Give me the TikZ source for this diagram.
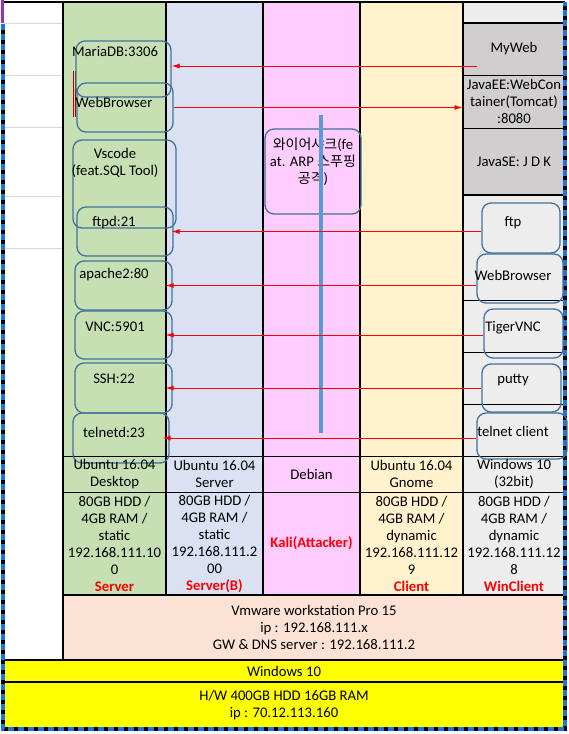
\documentclass[tikz,border=0pt]{standalone}
\usepackage{fontspec}
\setmainfont{Carlito}
\newfontfamily\krfont{Noto Sans CJK KR}
\usetikzlibrary{arrows.meta}
\definecolor{srvgreen}{HTML}{C6E0B4}
\definecolor{srvblue}{HTML}{D9E1F2}
\definecolor{kalipink}{HTML}{FFCCFF}
\definecolor{clientyellow}{HTML}{FFF2CC}
\definecolor{wingray}{HTML}{EDEDED}
\definecolor{webgray}{HTML}{D0CECE}
\definecolor{vmpeach}{HTML}{FBE2D5}
\definecolor{hostyellow}{HTML}{FFFF00}
\definecolor{boxline}{HTML}{41719C}
\definecolor{wireblue}{HTML}{5B9BD5}
\definecolor{selblue}{HTML}{1F73E0}
\definecolor{selpurple}{HTML}{9933B3}
\definecolor{gridgray}{HTML}{D9D9D9}
\newcommand{\kr}[1]{{\krfont\fontsize{14}{17}\selectfont #1}}
\begin{document}
\begin{tikzpicture}[x=1pt,y=-1pt,
    every node/.style={font=\fontsize{14.7}{17}\selectfont,inner sep=0pt,align=center},
    svc/.style={draw=boxline,line width=1.3,rounded corners=9},
    cell/.style={draw=black,line width=1,fill=webgray,minimum width=102},
    layer/.style={draw=black,line width=1.5,minimum width=#1},
    tag/.style={text=red,font=\fontsize{14.7}{17}\selectfont\bfseries},
    arr/.style={red,line width=0.9,-{Latex[length=8pt,width=5pt]}},
    arrin/.style={arr,shorten >=-7pt}]
    \useasboundingbox (0,0) rectangle (569,734);
    \fill[srvgreen] (63,2) rectangle (166,595);
    \fill[srvblue] (166,2) rectangle (263,595);
    \fill[kalipink] (263,2) rectangle (360,595);
    \fill[clientyellow] (360,2) rectangle (463,595);
    \fill[wingray] (463,2) rectangle (565,595);
    \foreach \y in {23,75,127,196,248} \draw[gridgray] (3,\y) -- (63,\y);
    \node[cell,minimum height=52] (myweb) at (514,49) {MyWeb};
    \node[cell,minimum height=53] (javaee) at (514,101.5) {JavaEE:WebCon\\tainer(Tomcat)\\:8080};
    \node[cell,minimum height=67] (javase) at (514,161.5) {JavaSE: J D K};
    \foreach \y in {300,352,404} \draw[line width=1] (463,\y) -- (565,\y);
    \draw[line width=2] (463,23) -- (565,23) (463,195) -- (565,195);
    \draw[line width=1] (63,456) -- (565,456) (63,492) -- (565,492);
    \draw[line width=1.5] (3,2) -- (565,2);
    \foreach \x in {63,166,263,360,463} \draw[line width=2.5] (\x,2) -- (\x,595);
    \node[layer=502,fill=vmpeach,line width=2.5,minimum height=65] (vmware) at (314,627.5)
        {Vmware workstation Pro 15\\ip : 192.168.111.x\\GW \& DNS server : 192.168.111.2};
    \node[layer=562,fill=hostyellow,line width=2.5,minimum height=22] (hostos) at (284,671) {Windows 10};
    \node[layer=562,fill=hostyellow,minimum height=47] (hosthw) at (284,705.5) {H/W 400GB HDD 16GB RAM\\ip : 70.12.113.160};
    \draw[line width=3.5] (3,24) |- (565,729) -- (565,2);
    \draw[selblue,line width=3.5,dash pattern=on 6pt off 4pt] (3,24) |- (565,729) -- (565,2);
    \draw[selpurple,line width=3] (2,0) -- (2,23);
    \draw[red!70!black,line width=0.8] (73,71) -- (73,117) (75.5,71) -- (75.5,117);
    \node[svc,minimum width=95,minimum height=56] (mariadb) at (123.5,69) {};
    \node (mariadb-lbl) at (115,51) {MariaDB:3306};
    \node[svc,minimum width=96,minimum height=49] (webbr) at (125,107.5) {};
    \node (webbr-lbl) at (114,102) {WebBrowser};
    \node[svc,minimum width=103,minimum height=88] (vscode) at (124.5,184) {};
    \node (vscode-lbl) at (115,163) {Vscode\\(feat.SQL Tool)};
    \node[svc,minimum width=96,minimum height=49] (ftpd) at (125,231.5) {};
    \node (ftpd-lbl) at (114,223) {ftpd:21};
    \node[svc,minimum width=97,minimum height=49] (apache) at (123.5,285.5) {};
    \node (apache-lbl) at (114,275) {apache2:80};
    \node[svc,minimum width=97,minimum height=48] (vnc) at (123.5,335) {};
    \node (vnc-lbl) at (115,327) {VNC:5901};
    \node[svc,minimum width=97,minimum height=50] (ssh) at (123.5,388) {};
    \node (ssh-lbl) at (114,379) {SSH:22};
    \node[svc,minimum width=96,minimum height=50] (telnetd) at (121,438) {};
    \node (telnetd-lbl) at (114,432) {telnetd:23};
    \node[svc,minimum width=78,minimum height=50] (ftp) at (521,228) {};
    \node (ftp-lbl) at (513,223) {ftp};
    \node[svc,minimum width=86,minimum height=49] (webcl) at (520,278.5) {};
    \node (webcl-lbl) at (513,275) {WebBrowser};
    \node[svc,minimum width=79,minimum height=49] (tigervnc) at (523.5,333.5) {};
    \node (tigervnc-lbl) at (513,328) {TigerVNC};
    \node[svc,minimum width=79,minimum height=48] (putty) at (521.5,388) {};
    \node (putty-lbl) at (513,380) {putty};
    \node[svc,minimum width=90,minimum height=46] (telnetcl) at (522,436) {};
    \node (telnetcl-lbl) at (513,431) {telnet client};
    \node[svc,minimum width=96,minimum height=85] (wshark) at (313,171.5) {};
    \node (wshark-lbl) at (313,161.5) {\kr{와이어샤크}(fe\\at. ARP \kr{스푸핑}\\\kr{공격})};
    \draw[wireblue,line width=3.5] (321,115) -- (321,433);
    \coordinate (mywebtap) at (477,66);
    \draw[arr] (mywebtap) -- (mywebtap -| mariadb.east);
    \draw[arr] (webbr.east) -- (webbr.east -| javaee.west);
    \draw[arr] (ftp.west |- ftpd.east) -- ([xshift=-2pt]ftpd.east);
    \draw[arrin] (webcl.west |- apache.east) -- (apache.east);
    \draw[arrin] (tigervnc.west |- vnc.east) -- (vnc.east);
    \draw[arrin] (putty.west |- ssh.east) -- (ssh.east);
    \draw[arrin] (telnetcl.west |- telnetd.east) -- (telnetd.east);
    \node (srv-os) at (114.5,474) {Ubuntu 16.04\\Desktop};
    \node (srvb-os) at (214.5,474) {Ubuntu 16.04\\Server};
    \node (kali-os) at (311.5,474) {Debian};
    \node (client-os) at (411.5,474) {Ubuntu 16.04\\Gnome};
    \node (win-os) at (514,474) {Windows 10\\(32bit)};
    \node (srv-spec) at (114.5,544) {80GB HDD /\\4GB RAM /\\static\\192.168.111.10\\0\\\textcolor{red}{\bfseries Server}};
    \node (srvb-spec) at (214.5,544) {80GB HDD /\\4GB RAM /\\static\\192.168.111.2\\00\\\textcolor{red}{\bfseries Server(B)}};
    \node[tag] (kali-spec) at (311.5,543) {Kali(Attacker)};
    \node (client-spec) at (411.5,544) {80GB HDD /\\4GB RAM /\\dynamic\\192.168.111.12\\9\\\textcolor{red}{\bfseries Client}};
    \node (win-spec) at (514,544) {80GB HDD /\\4GB RAM /\\dynamic\\192.168.111.12\\8\\\textcolor{red}{\bfseries WinClient}};
\end{tikzpicture}
\end{document}
